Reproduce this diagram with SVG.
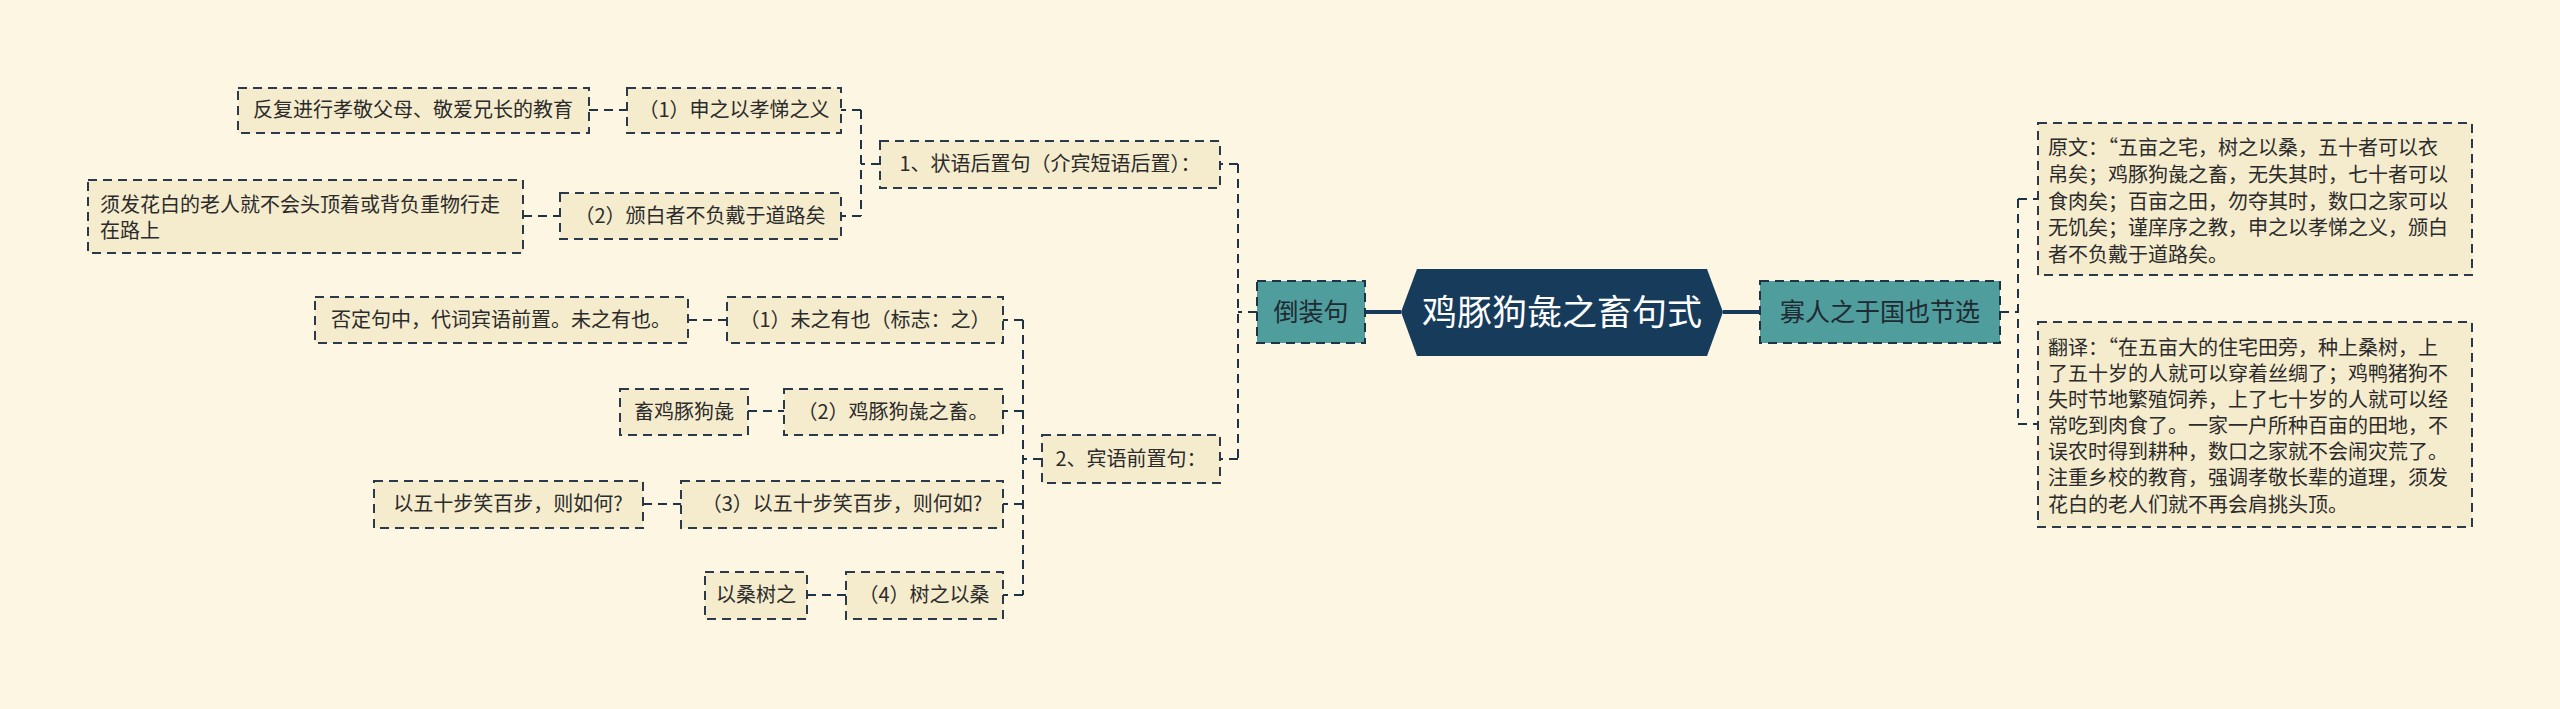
<svg xmlns="http://www.w3.org/2000/svg" width="2560" height="709" viewBox="0 0 2560 709">
<style>
.leaf{fill:#f5ecce;stroke:#2a3a4a;stroke-width:2;stroke-dasharray:9 6}
.sub{fill:#4f9d9c;stroke:#1e3346;stroke-width:2;stroke-dasharray:9 6}
.t{font-family:"Noto Sans CJK SC","Noto Sans",sans-serif;font-size:20px;fill:#2b2b2b}
.tm{text-anchor:middle}
.ts{font-family:"Noto Sans CJK SC","Noto Sans",sans-serif;font-size:25px;fill:#1f2a33;text-anchor:middle}
.dash{fill:none;stroke:#1e3346;stroke-width:2;stroke-dasharray:9 6}
.solid{fill:none;stroke:#173c5b;stroke-width:4}
</style>
<rect x="0" y="0" width="2560" height="709" fill="#fcf6e2"/>
<g id="connectors">
<path class="solid" d="M1365 312H1401M1723 312H1760"/>
<path class="dash" d="M2000 312H2018M2018 199V424M2018 199H2038M2018 424H2038"/>
<path class="dash" d="M1257 312H1238M1238 164V459M1238 164H1220M1238 459H1220"/>
<path class="dash" d="M880 164H861M861 110V216M861 110H841M861 216H841"/>
<path class="dash" d="M1042 459H1023M1023 320V595M1023 320H1003M1023 411H1003M1023 504H1003M1023 595H1003"/>
<path class="dash" d="M589 110H627M523 216H560M688 320H727M748 411H784M643 504H681M807 595H846"/>
</g>
<g id="center">
<polygon points="1401,312 1417,269 1707,269 1723,312 1707,356 1417,356" fill="#173c5b"/>
<text x="1562" y="325" font-family="Noto Sans CJK SC,sans-serif" font-size="35" fill="#ffffff" text-anchor="middle">鸡豚狗彘之畜句式</text>
</g>
<g id="daozhuangju">
<rect class="sub" x="1257" y="281" width="108" height="62"/>
<text class="ts" x="1311" y="321">倒装句</text>
</g>
<g id="guaren">
<rect class="sub" x="1760" y="281" width="240" height="62"/>
<text class="ts" x="1880" y="321">寡人之于国也节选</text>
</g>
<g id="yuanwen">
<rect class="leaf" x="2038" y="123" width="434" height="152"/>
<text class="t"><tspan x="2048" y="155">原文：“五亩之宅，树之以桑，五十者可以衣</tspan><tspan x="2048" y="182">帛矣；鸡豚狗彘之畜，无失其时，七十者可以</tspan><tspan x="2048" y="209">食肉矣；百亩之田，勿夺其时，数口之家可以</tspan><tspan x="2048" y="235">无饥矣；谨庠序之教，申之以孝悌之义，颁白</tspan><tspan x="2048" y="262">者不负戴于道路矣。</tspan></text>
</g>
<g id="fanyi">
<rect class="leaf" x="2038" y="322" width="434" height="205"/>
<text class="t"><tspan x="2048" y="355">翻译：“在五亩大的住宅田旁，种上桑树，上</tspan><tspan x="2048" y="381">了五十岁的人就可以穿着丝绸了；鸡鸭猪狗不</tspan><tspan x="2048" y="407">失时节地繁殖饲养，上了七十岁的人就可以经</tspan><tspan x="2048" y="433">常吃到肉食了。一家一户所种百亩的田地，不</tspan><tspan x="2048" y="459">误农时得到耕种，数口之家就不会闹灾荒了。</tspan><tspan x="2048" y="485">注重乡校的教育，强调孝敬长辈的道理，须发</tspan><tspan x="2048" y="512">花白的老人们就不再会肩挑头顶。</tspan></text>
</g>
<g id="zhuangyu">
<rect class="leaf" x="880" y="141" width="340" height="47"/>
<text class="t tm" x="1050" y="171">1、状语后置句（介宾短语后置）：</text>
</g>
<g id="binyu">
<rect class="leaf" x="1042" y="435" width="178" height="48"/>
<text class="t tm" x="1131" y="466">2、宾语前置句：</text>
</g>
<g id="shen">
<rect class="leaf" x="627" y="88" width="214" height="45"/>
<text class="t tm" x="734" y="117">（1）申之以孝悌之义</text>
</g>
<g id="shen-note">
<rect class="leaf" x="238" y="88" width="351" height="45"/>
<text class="t tm" x="413" y="117">反复进行孝敬父母、敬爱兄长的教育</text>
</g>
<g id="banbai">
<rect class="leaf" x="560" y="193" width="281" height="46"/>
<text class="t tm" x="700" y="223">（2）颁白者不负戴于道路矣</text>
</g>
<g id="banbai-note">
<rect class="leaf" x="88" y="180" width="435" height="73"/>
<text class="t"><tspan x="100" y="212">须发花白的老人就不会头顶着或背负重物行走</tspan><tspan x="100" y="238">在路上</tspan></text>
</g>
<g id="weizhi">
<rect class="leaf" x="727" y="297" width="276" height="46"/>
<text class="t tm" x="865" y="327">（1）未之有也（标志：之）</text>
</g>
<g id="weizhi-note">
<rect class="leaf" x="315" y="297" width="373" height="46"/>
<text class="t tm" x="501" y="327">否定句中，代词宾语前置。未之有也。</text>
</g>
<g id="jitun">
<rect class="leaf" x="784" y="389" width="219" height="46"/>
<text class="t tm" x="893" y="419">（2）鸡豚狗彘之畜。</text>
</g>
<g id="jitun-note">
<rect class="leaf" x="620" y="389" width="128" height="46"/>
<text class="t tm" x="684" y="419">畜鸡豚狗彘</text>
</g>
<g id="wushi">
<rect class="leaf" x="681" y="481" width="322" height="47"/>
<text class="t tm" x="842" y="511">（3）以五十步笑百步，则何如?</text>
</g>
<g id="wushi-note">
<rect class="leaf" x="374" y="481" width="269" height="47"/>
<text class="t tm" x="508" y="511">以五十步笑百步，则如何?</text>
</g>
<g id="shuzhi">
<rect class="leaf" x="846" y="572" width="157" height="47"/>
<text class="t tm" x="924" y="602">（4）树之以桑</text>
</g>
<g id="shuzhi-note">
<rect class="leaf" x="705" y="572" width="102" height="47"/>
<text class="t tm" x="756" y="602">以桑树之</text>
</g>
</svg>
